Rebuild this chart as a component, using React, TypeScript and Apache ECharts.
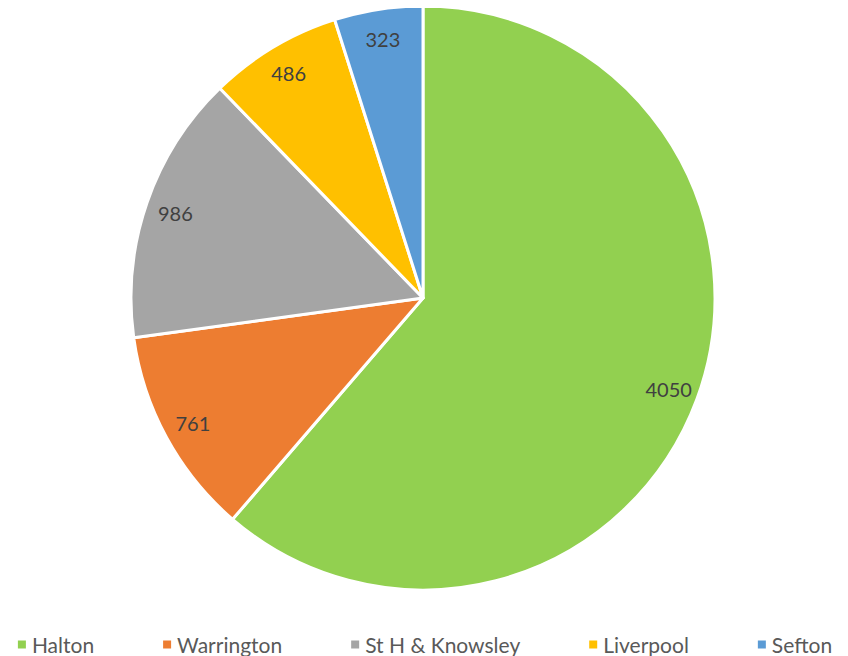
import React, { useEffect, useRef } from "react";
import * as echarts from "echarts";

const categories = ["Halton", "Warrington", "St H & Knowsley", "Liverpool", "Sefton"];
const values = [4050, 761, 986, 486, 323];
const colors = ["#92D050", "#ED7D31", "#A5A5A5", "#FFC000", "#5B9BD5"];

export default function App() {
  const ref = useRef<HTMLDivElement>(null);
  useEffect(() => {
    const chart = echarts.init(ref.current!, null, { renderer: "svg" });
    const data = categories.map((name, i) => ({ name, value: values[i] }));
    chart.setOption({
      animation: false,
      color: colors,
      legend: {
        data: categories,
        top: 621,
        left: "center",
        icon: "rect",
        itemWidth: 10,
        itemHeight: 10,
        itemGap: 67,
        textStyle: { color: "#595959", fontSize: 21, fontFamily: "Lato" },
      },
      series: [
        {
          type: "pie",
          center: [415, 290],
          radius: [0, 292],
          startAngle: 90,
          clockwise: true,
          data,
          label: { show: false },
          labelLine: { show: false },
          itemStyle: { borderColor: "#ffffff", borderWidth: 3 },
          emphasis: { disabled: true },
          silent: true,
        },
        {
          type: "pie",
          center: [415, 290],
          radius: [226, 292],
          startAngle: 90,
          clockwise: true,
          data,
          itemStyle: { color: "rgba(0,0,0,0)" },
          label: {
            show: true,
            position: "inside",
            formatter: "{c}",
            color: "#404040",
            fontSize: 20,
            fontFamily: "Lato",
          },
          labelLine: { show: false },
          emphasis: { disabled: true },
          silent: true,
        },
      ],
    });
    return () => chart.dispose();
  }, []);
  return <div ref={ref} style={{ width: 832, height: 648 }} />;
}
